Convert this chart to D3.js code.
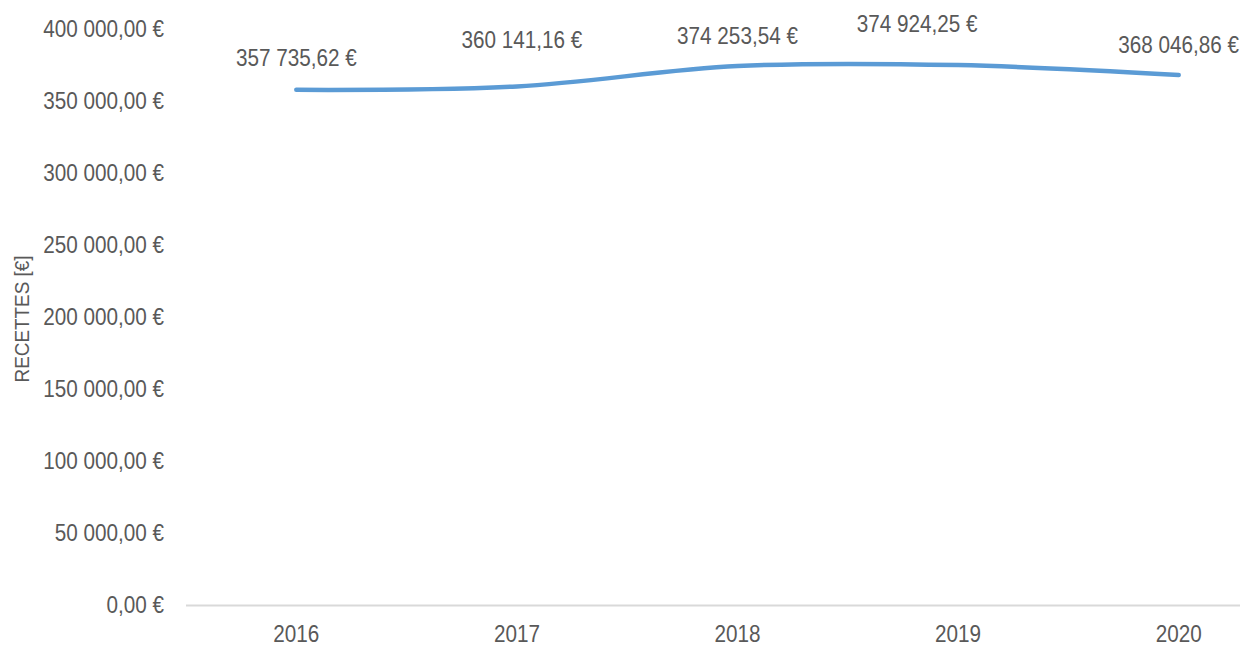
<!DOCTYPE html>
<html>
<head>
<meta charset="utf-8">
<script src="https://cdn.jsdelivr.net/npm/d3@7"></script>
<style>
  html, body { margin: 0; padding: 0; background: #fff; }
  svg text { font-family: "Liberation Sans Narrow", "Arial Narrow", "Liberation Sans", sans-serif; fill: #595959; }
</style>
</head>
<body>
<div id="chart"></div>
<script>
// chart data
const years = ["2016", "2017", "2018", "2019", "2020"];
const recettes = [357735.62, 360141.16, 374253.54, 374924.25, 368046.86];
const yTicks = [0, 50000, 100000, 150000, 200000, 250000, 300000, 350000, 400000];

// hand nudges for the data labels (Excel placed them a bit freely)
const labelDx = [0, 5, 0, -41, 0];
const labelDy = [-32, -46, -30, -41, -30];

const width = 1240;
const height = 645;
const plotLeft = 186, bandStep = 220.6;
const plotTop = 29, plotBottom = 605;
// no narrow font installed, so squeeze the regular one
const squeeze = 0.9;

const svg = d3.select("#chart").append("svg")
    .attr("width", width)
    .attr("height", height);

const x = d3.scaleBand()
    .domain(years)
    .range([plotLeft, plotLeft + bandStep * years.length]);

const y = d3.scaleLinear()
    .domain([0, 400000])
    .range([plotBottom, plotTop]);

// euro format like "350 000,00 €"
function euro(v) {
    const parts = v.toFixed(2).split(".");
    const intPart = parts[0].replace(/\B(?=(\d{3})+(?!\d))/g, " ");
    return intPart + "," + parts[1] + " €";
}

// y tick labels
svg.append("g")
    .selectAll("text")
    .data(yTicks)
    .join("text")
    .attr("transform", d => `translate(164, ${y(d)}) scale(${squeeze}, 1)`)
    .attr("dy", "0.35em")
    .attr("text-anchor", "end")
    .style("font-size", "23px")
    .text(d => euro(d));

// axis title
svg.append("text")
    .attr("transform", `translate(29, ${(plotTop + plotBottom) / 2 + 2}) rotate(-90) scale(${squeeze}, 1)`)
    .attr("text-anchor", "middle")
    .style("font-size", "21px")
    .text("RECETTES [€]");

// category axis line
svg.append("line")
    .attr("x1", plotLeft)
    .attr("x2", plotLeft + bandStep * years.length)
    .attr("y1", plotBottom + 0.5)
    .attr("y2", plotBottom + 0.5)
    .attr("stroke", "#d9d9d9")
    .attr("stroke-width", 2);

// category labels
svg.append("g")
    .selectAll("text")
    .data(years)
    .join("text")
    .attr("transform", d => `translate(${x(d) + x.bandwidth() / 2}, 634) scale(${squeeze}, 1)`)
    .attr("dy", "0.35em")
    .attr("text-anchor", "middle")
    .style("font-size", "23px")
    .text(d => d);

// smoothed line
const line = d3.line()
    .x((d, i) => x(years[i]) + x.bandwidth() / 2)
    .y(d => y(d))
    .curve(d3.curveCardinal.tension(0));

svg.append("path")
    .datum(recettes)
    .attr("fill", "none")
    .attr("stroke", "#5b9bd5")
    .attr("stroke-width", 4.5)
    .attr("stroke-linecap", "round")
    .attr("d", line);

// data labels
svg.append("g")
    .selectAll("text")
    .data(recettes)
    .join("text")
    .attr("transform", (d, i) => `translate(${x(years[i]) + x.bandwidth() / 2 + labelDx[i]}, ${y(d) + labelDy[i]}) scale(${squeeze}, 1)`)
    .attr("dy", "0.35em")
    .attr("text-anchor", "middle")
    .style("font-size", "23px")
    .text(d => euro(d));
</script>
</body>
</html>
